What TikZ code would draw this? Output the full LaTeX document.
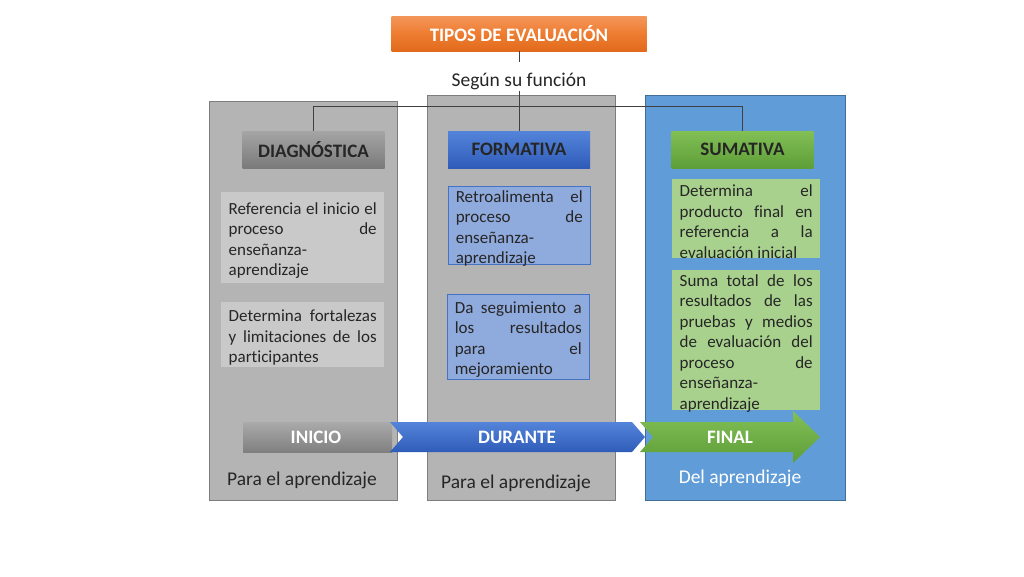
\documentclass[tikz,border=0pt]{standalone}
\usepackage{fontspec}
\setmainfont{Carlito}[Ligatures={NoCommon}]
\definecolor{txt}{HTML}{262626}
\definecolor{linec}{HTML}{404040}
\definecolor{panelgray}{HTML}{B4B4B4}
\definecolor{panelblue}{HTML}{609DD8}
\definecolor{dgbox}{RGB}{201,201,201}
\definecolor{fmbox}{RGB}{143,170,220}
\definecolor{fmline}{RGB}{68,114,196}
\definecolor{smbox}{RGB}{169,209,142}
\tikzset{
  panel/.style={draw=#1!70!black, fill=#1, line width=0.8pt, anchor=north west, inner sep=0pt},
  header/.style={minimum width=142pt, minimum height=37pt, inner sep=0pt, font=\fontsize{19}{21}\selectfont\bfseries, text=txt},
  boxbg/.style={anchor=north west, inner sep=0pt},
  boxtxt/.style={inner sep=0pt, yshift=-3pt, font=\fontsize{17}{20.5}\selectfont, text=txt, align=justify},
  lbl/.style={font=\fontsize{19.5}{22}\selectfont, text=txt},
  conn/.style={draw=linec, line width=0.9pt},
  flowtxt/.style={font=\fontsize{19}{21}\selectfont\bfseries, text=white}
}
\begin{document}
\begin{tikzpicture}[x=1pt,y=-1pt]
\useasboundingbox (0,0) rectangle (1024,576);
\fill[white] (0,0) rectangle (1024,576);
% panels
\node[panel=panelgray, minimum width=188pt, minimum height=399pt] (p1) at (209,101) {};
\node[panel=panelgray, minimum width=188pt, minimum height=405pt] (p2) at (427,95) {};
\node[panel=panelblue, minimum width=200pt, minimum height=405pt] (p3) at (645,95) {};
% title
\node[minimum width=255pt, minimum height=35pt, inner sep=0pt, top color={rgb,255:red,244;green,150;blue,90}, bottom color={rgb,255:red,226;green,106;blue,28}, middle color={rgb,255:red,237;green,125;blue,49}, font=\fontsize{19}{21}\selectfont\bfseries, text=white] (title) at (519,33.5) {TIPOS DE EVALUACIÓN};
\node[lbl, inner sep=1pt] (segun) at (519,81) {Según su función};
% headers
\node[header, top color={rgb,255:red,165;green,165;blue,165}, bottom color={rgb,255:red,122;green,122;blue,122}] (diag) at (313.5,149.5) {DIAGNÓSTICA};
\node[header, top color={rgb,255:red,84;green,132;blue,218}, bottom color={rgb,255:red,47;green,92;blue,184}] (form) at (519,149.5) {FORMATIVA};
\node[header, top color={rgb,255:red,130;green,192;blue,86}, bottom color={rgb,255:red,94;green,158;blue,56}] (sum) at (742.5,149.5) {SUMATIVA};
% connectors
\draw[conn] (title.south) -- ++(0,11) coordinate (tl);
\draw[conn] (segun.south) -- (form.north);
\draw[conn] (diag.north) -- ++(0,-24) coordinate (hl) -| (sum.north);
% text boxes
\node[boxbg, fill=dgbox, minimum width=163pt, minimum height=91pt] (d1) at (221,192) {};
\node[boxtxt, text width=148pt] (d1t) at (d1.center) {Referencia el inicio el\linebreak proceso de\linebreak enseñanza-\\aprendizaje};
\node[boxbg, fill=dgbox, minimum width=163pt, minimum height=65pt] (d2) at (221,302) {};
\node[boxtxt, text width=148pt] (d2t) at (d2.center) {Determina fortalezas\linebreak y limitaciones de los\linebreak participantes};
\node[boxbg, fill=fmbox, draw=fmline, line width=0.6pt, minimum width=142pt, minimum height=78pt] (f1) at (448,186) {};
\node[boxtxt, text width=127pt] (f1t) at (f1.center) {Retroalimenta el\linebreak proceso de\linebreak enseñanza-\\aprendizaje};
\node[boxbg, fill=fmbox, draw=fmline, line width=0.6pt, minimum width=142pt, minimum height=85pt] (f2) at (447,294) {};
\node[boxtxt, text width=127pt] (f2t) at (f2.center) {Da seguimiento a\linebreak los resultados\linebreak para el\linebreak mejoramiento};
\node[boxbg, fill=smbox, minimum width=148pt, minimum height=79pt] (s1) at (672,179) {};
\node[boxtxt, text width=133pt] (s1t) at (s1.center) {Determina el\linebreak producto final en\linebreak referencia a la\linebreak evaluación inicial};
\node[boxbg, fill=smbox, minimum width=148pt, minimum height=140pt] (s2) at (672,270) {};
\node[boxtxt, text width=133pt] (s2t) at (s2.center) {Suma total de los\linebreak resultados de las\linebreak pruebas y medios\linebreak de evaluación del\linebreak proceso de\linebreak enseñanza-\\aprendizaje};
% flow arrows
\shade[top color={rgb,255:red,170;green,170;blue,170}, bottom color={rgb,255:red,128;green,128;blue,128}] (243,422) rectangle (392,452);
\shade[top color={rgb,255:red,84;green,132;blue,218}, bottom color={rgb,255:red,47;green,92;blue,184}] (390,422) -- (632,422) -- (645,437) -- (632,452) -- (390,452) -- (403,437) -- cycle;
\shade[top color={rgb,255:red,130;green,192;blue,86}, bottom color={rgb,255:red,94;green,158;blue,56}] (640,422) -- (793,422) -- (793,411) -- (820,437) -- (793,463) -- (793,452) -- (640,452) -- (653,437) -- cycle;
\node[flowtxt] (inicio) at (316,437) {INICIO};
\node[flowtxt] (durante) at (517,437) {DURANTE};
\node[flowtxt] (final) at (730,437) {FINAL};
% bottom labels
\node[lbl] (a1) at (302,480) {Para el aprendizaje};
\node[lbl] (a2) at (516,483) {Para el aprendizaje};
\node[lbl, text=white] (a3) at (740,478) {Del aprendizaje};
\end{tikzpicture}
\end{document}
